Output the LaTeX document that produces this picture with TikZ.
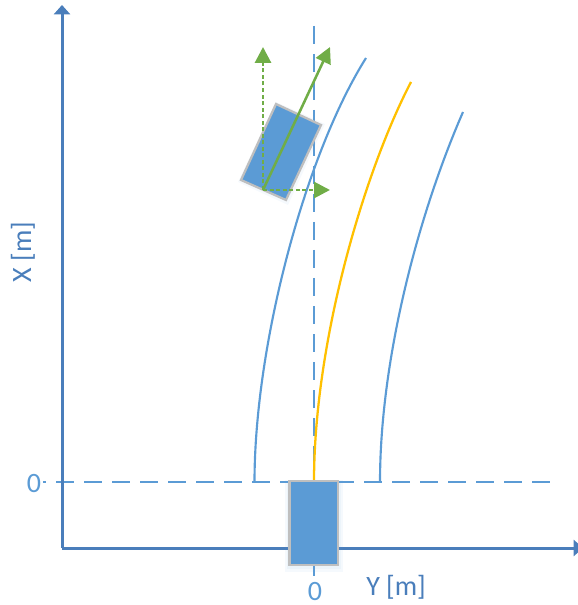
\documentclass[tikz,border=0pt]{standalone}
\usepackage{fontspec}
\setmainfont{Carlito}
\usetikzlibrary{arrows.meta}
\definecolor{axisblue}{HTML}{4A7EBB}
\definecolor{lineblue}{HTML}{5B9BD5}
\definecolor{roadyellow}{HTML}{FFC000}
\definecolor{vecgreen}{HTML}{70AD47}
\definecolor{caredge}{HTML}{BFBFBF}
\tikzset{
  axisline/.style={draw=axisblue,line width=2.25pt,-{Triangle[length=7pt,width=12pt]}},
  refline/.style={draw=lineblue,line width=1.6pt,dash pattern=on 13.5pt off 7.5pt},
  roadline/.style={draw=lineblue,line width=1.6pt},
  midline/.style={draw=roadyellow,line width=1.7pt},
  vecsolid/.style={draw=vecgreen,line width=1.9pt,-{Triangle[length=12pt,width=12pt]}},
  vecdot/.style={draw=vecgreen,line width=2.2pt,dash pattern=on 3pt off 1.9pt,-{Triangle[length=12pt,width=12pt]}},
  carbody/.style={fill=lineblue,draw=caredge,line width=1.7pt,line join=miter},
  carglow/.style={fill=lineblue,draw=none,opacity=0.06},
  axlabel/.style={text=axisblue,font=\fontsize{21}{23}\selectfont,inner sep=0pt},
  zerolabel/.style={text=lineblue,font=\fontsize{21}{23}\selectfont,inner sep=0pt}
}
\begin{document}
\begin{tikzpicture}[x=0.75pt,y=-0.75pt]
\useasboundingbox (0,0) rectangle (577,605);
% named anchors
\coordinate (origin) at (62,548);
\coordinate (ytip) at (62,5);
\coordinate (xtip) at (583,548);
\coordinate (hstart) at (43,482);
\coordinate (hend) at (554,482);
\coordinate (vstart) at (314,26);
\coordinate (vend) at (314,576);
\coordinate (leftstart) at (254.5,482);
\coordinate (leftend) at (366,58);
\coordinate (midstart) at (314,482);
\coordinate (midend) at (411,82);
\coordinate (rightstart) at (380,482);
\coordinate (rightend) at (463,112);
\coordinate (carback) at (263,190);
\coordinate (vectip) at (330,47);
\coordinate (vxtip) at (263,47);
\coordinate (vytip) at (330,190);
% dashed reference lines
\draw[refline,dash phase=11pt] (hstart) -- (hend);
\draw[refline] (vstart) -- (vend);
% axes
\draw[axisline] (origin) -- (ytip);
\draw[axisline] (origin) -- (xtip);
% road edges
\draw[roadline] (leftstart) .. controls (254.5,345) and (305,155) .. (leftend);
\draw[roadline] (rightstart) .. controls (380,360) and (418,215) .. (rightend);
\draw[midline] (midstart) .. controls (314,340) and (365,170) .. (midend);
% ego car
\fill[carglow] (285,480) rectangle (343,572);
\fill[carglow] (287,481) rectangle (341,569);
\draw[carbody] (289.5,481) rectangle (338,565);
% other car
\fill[carglow] (276,102) -- (325,124) -- (288,205) -- (238,182) -- cycle;
\draw[carbody] (276,104) -- (321,125) -- (286,200) -- (241,180) -- cycle;
% vectors
\draw[vecdot] (carback) -- (vxtip);
\draw[vecdot] (carback) -- (vytip);
\draw[vecsolid] (carback) -- (vectip);
% labels
\node[axlabel,rotate=90] (xlabel) at (23,252) {X [m]};
\node[axlabel] (ylabel) at (396,587) {Y [m]};
\node[zerolabel] (xzero) at (34,484) {0};
\node[zerolabel] (yzero) at (315,592) {0};
\end{tikzpicture}
\end{document}
